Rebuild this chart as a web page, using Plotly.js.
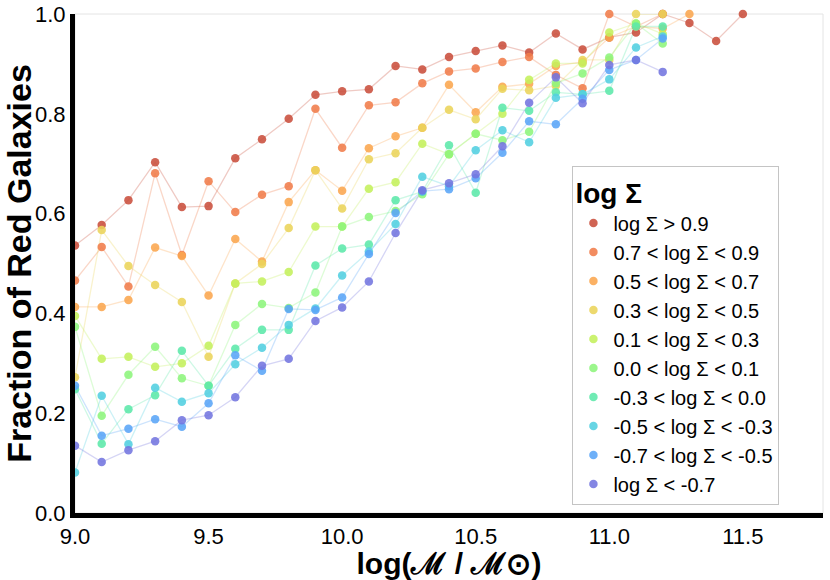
<!DOCTYPE html>
<html>
<head>
<meta charset="utf-8">
<script src="https://cdn.plot.ly/plotly-3.0.1.min.js"></script>
<style>
  html, body { margin: 0; padding: 0; background: #fff; }
  #chart { width: 830px; height: 580px; }
</style>
</head>
<body>
<div id="chart"></div>
<script>
// stellar mass bins, log(M / Msun)
const massBins = [9.0, 9.1, 9.2, 9.3, 9.4, 9.5, 9.6, 9.7, 9.8, 9.9,
                  10.0, 10.1, 10.2, 10.3, 10.4, 10.5, 10.6, 10.7, 10.8, 10.9,
                  11.0, 11.1, 11.2, 11.3, 11.4, 11.5];

// density bin labels
const densityLabels = [
  'log Σ > 0.9',
  '0.7 < log Σ < 0.9',
  '0.5 < log Σ < 0.7',
  '0.3 < log Σ < 0.5',
  '0.1 < log Σ < 0.3',
  '0.0 < log Σ < 0.1',
  '-0.3 < log Σ < 0.0',
  '-0.5 < log Σ < -0.3',
  '-0.7 < log Σ < -0.5',
  'log Σ < -0.7'
];

// red fraction per density bin
const fracGt09 = [0.536, 0.577, 0.627, 0.703, 0.613, 0.615, 0.711, 0.749, 0.790, 0.838,
                  0.845, 0.849, 0.896, 0.889, 0.914, 0.926, 0.937, 0.923, 0.961, 0.929,
                  0.953, 0.963, 1.000, 0.982, 0.946, 1.000];
const frac07to09 = [0.466, 0.533, 0.454, 0.681, 0.517, 0.665, 0.603, 0.638, 0.655, 0.810,
                    0.732, 0.817, 0.823, 0.861, 0.885, 0.891, 0.904, 0.914, 0.878, 0.851,
                    1.000, 0.975, 1.000];
const frac05to07 = [0.413, 0.413, 0.427, 0.532, 0.515, 0.436, 0.549, 0.504, 0.623, 0.687,
                    0.646, 0.731, 0.755, 0.772, 0.858, 0.803, 0.854, 0.860, 0.896, 0.904,
                    0.953, 0.975, 0.971, 1.000];
const frac03to05 = [0.272, 0.567, 0.495, 0.457, 0.423, 0.313, 0.460, 0.499, 0.571, 0.687,
                    0.610, 0.709, 0.721, 0.772, 0.808, 0.789, 0.850, 0.847, 0.856, 0.908,
                    0.908, 1.000, 1.000];
const frac01to03 = [0.395, 0.309, 0.313, 0.293, 0.300, 0.335, 0.460, 0.464, 0.483, 0.574,
                    0.574, 0.650, 0.663, 0.740, 0.719, 0.760, 0.800, 0.868, 0.901, 0.901,
                    0.963, 0.981, 0.960];
const frac00to01 = [0.373, 0.195, 0.277, 0.333, 0.270, 0.255, 0.377, 0.419, 0.411, 0.442,
                    0.574, 0.593, 0.605, 0.639, 0.719, 0.760, 0.747, 0.764, 0.861, 0.881,
                    0.913, 0.981, 0.941];
const fracM03to00 = [0.248, 0.139, 0.208, 0.236, 0.325, 0.255, 0.329, 0.367, 0.367, 0.496,
                     0.530, 0.538, 0.627, 0.644, 0.737, 0.642, 0.812, 0.806, 0.843, 0.839,
                     0.846, 0.975, 0.975];
const fracM05toM03 = [0.081, 0.235, 0.138, 0.251, 0.223, 0.240, 0.298, 0.331, 0.377, 0.410,
                      0.476, 0.524, 0.579, 0.674, 0.655, 0.727, 0.767, 0.743, 0.832, 0.839,
                      0.869, 0.933, 0.955];
const fracM07toM05 = [0.255, 0.155, 0.169, 0.188, 0.173, 0.220, 0.316, 0.285, 0.409, 0.407,
                      0.432, 0.519, 0.601, 0.645, 0.649, 0.671, 0.722, 0.785, 0.779, 0.830,
                      0.888, 0.908, 0.951];
const fracLtM07 = [0.135, 0.102, 0.126, 0.144, 0.186, 0.196, 0.232, 0.295, 0.309, 0.385,
                   0.412, 0.464, 0.561, 0.647, 0.661, 0.679, 0.735, 0.822, 0.873, 0.821,
                   0.898, 0.908, 0.884];

const seriesValues = [fracGt09, frac07to09, frac05to07, frac03to05, frac01to03,
                      frac00to01, fracM03to00, fracM05toM03, fracM07toM05, fracLtM07];

const colors = [
  [201, 79, 60], [240, 124, 74], [251, 166, 78], [234, 212, 90], [196, 240, 92],
  [141, 245, 124], [92, 232, 170], [82, 207, 224], [90, 165, 247], [115, 117, 223]
];
const rgba = (c, a) => `rgba(${c[0]},${c[1]},${c[2]},${a})`;

const FONT = 'Liberation Sans, Arial, Helvetica, sans-serif';

// thin connecting lines first, dots on top
const lineTraces = seriesValues.map((vals, i) => ({
  x: massBins.slice(0, vals.length),
  y: vals,
  mode: 'lines',
  line: { color: rgba(colors[i], 0.3), width: 1.3 },
  showlegend: false,
  hoverinfo: 'skip',
  cliponaxis: false
}));

const dotTraces = seriesValues.map((vals, i) => ({
  x: massBins.slice(0, vals.length),
  y: vals,
  name: densityLabels[i],
  mode: 'markers',
  marker: { color: rgba(colors[i], 0.88), size: 8.5 },
  cliponaxis: false
}));

const layout = {
  width: 830,
  height: 580,
  margin: { l: 75, r: 7, t: 14, b: 67 },
  paper_bgcolor: '#fff',
  plot_bgcolor: '#fff',
  font: { family: FONT, color: '#000', size: 22 },
  xaxis: {
    range: [9.0, 11.8],
    tickvals: [9.0, 9.5, 10.0, 10.5, 11.0, 11.5],
    tickformat: '.1f',
    showgrid: false,
    zeroline: false,
    showline: true,
    linecolor: '#000',
    linewidth: 5,
    ticks: '',
    tickfont: { size: 22 },
    title: {
      text: '<b>log(ℳ / ℳ⊙)</b>',
      font: { size: 30 },
      standoff: 5
    }
  },
  yaxis: {
    range: [0, 1],
    tickvals: [0, 0.2, 0.4, 0.6, 0.8, 1.0],
    tickformat: '.1f',
    showgrid: false,
    zeroline: false,
    showline: true,
    linecolor: '#000',
    linewidth: 5,
    ticks: '',
    tickfont: { size: 22 },
    title: {
      text: '<b>Fraction of Red Galaxies</b>',
      font: { size: 34 },
      standoff: 2
    }
  },
  shapes: [{
    type: 'rect', xref: 'paper', yref: 'paper',
    x0: 0, x1: 1, y0: 0, y1: 1,
    line: { color: '#e4e4e4', width: 1 },
    layer: 'below'
  }],
  legend: {
    x: 0.665, y: 0.016,
    xanchor: 'left', yanchor: 'bottom',
    bgcolor: '#fff',
    bordercolor: '#c4c4c4',
    borderwidth: 1,
    font: { size: 20 },
    title: { text: '<b>log Σ</b>', font: { size: 28 } },
    itemsizing: 'trace'
  },
  showlegend: true
};

Plotly.newPlot('chart', lineTraces.concat(dotTraces), layout, { staticPlot: true, displayModeBar: false });
</script>
</body>
</html>
